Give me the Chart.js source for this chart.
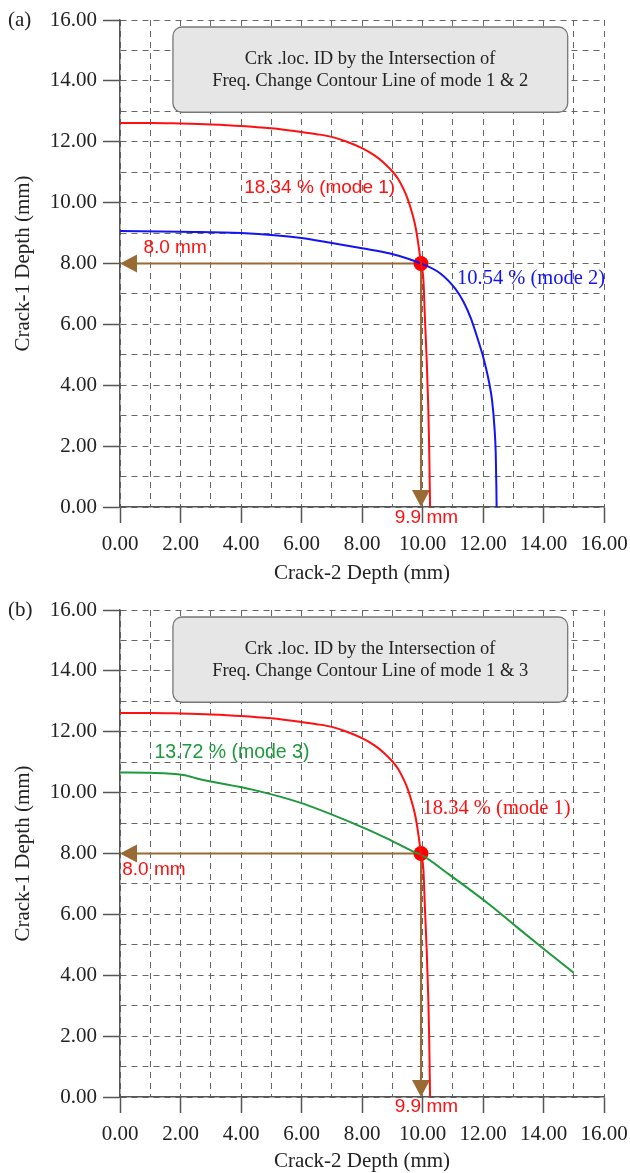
<!DOCTYPE html>
<html>
<head>
<meta charset="utf-8">
<script src="https://cdn.jsdelivr.net/npm/chart.js@4.4.1/dist/chart.umd.min.js"></script>
<style>
  html, body { margin: 0; padding: 0; background: #fff; }
  canvas { display: block; }
</style>
</head>
<body>
<canvas id="chartA" width="630" height="586"></canvas>
<canvas id="chartB" width="630" height="587"></canvas>
<script>
// axis ticks (labelled every 2 mm, grid every 1 mm)
const majorTicks = [0, 2, 4, 6, 8, 10, 12, 14, 16];

// mode 1 contour line (18.34 %), same in both panels
const mode1X = [0, 1, 2, 3, 4, 5, 6, 6.5, 7, 7.5, 8, 8.4, 8.7, 9.0, 9.2, 9.37, 9.5, 9.6, 9.7, 9.78, 9.86, 9.95,
                10.03, 10.08, 10.14, 10.19, 10.22, 10.25];
const mode1Y = [12.62, 12.62, 12.6, 12.57, 12.52, 12.44, 12.32, 12.25, 12.16, 12.0, 11.79, 11.56, 11.33, 11.03, 10.77, 10.45, 10.15, 9.85, 9.5, 9.15, 8.65, 8.0,
                7.46, 6.2, 4.8, 3.3, 2.0, 0];

// mode 2 contour line (10.54 %)
const mode2X = [0, 2, 4, 6, 7, 8, 8.93, 9.95, 10.58, 11.1, 11.35, 11.6, 11.8, 12.0, 12.2, 12.3, 12.38, 12.42, 12.44, 12.45];
const mode2Y = [9.07, 9.04, 9.0, 8.84, 8.67, 8.5, 8.33, 8.0, 7.68, 7.15, 6.75, 6.2, 5.6, 4.95, 4.1, 3.5, 2.6, 1.8, 0.8, 0];

// mode 3 contour line (13.72 %)
const mode3X = [0, 1, 2.09, 2.64, 4.41, 5.95, 7.71, 8.82, 9.7, 9.95, 10.91, 12.23, 13.11, 13.99, 15.0];
const mode3Y = [10.66, 10.65, 10.58, 10.44, 10.09, 9.67, 8.99, 8.5, 8.06, 7.96, 7.29, 6.31, 5.59, 4.88, 4.08];

// identified crack location (crack-2 depth, crack-1 depth)
const crossing = [9.95, 8.0];

const serif = '"Liberation Serif", "Times New Roman", serif';
const sans = '"Liberation Sans", Arial, sans-serif';
const axisColor = '#555';
const gridColor = '#666';
const arrowColor = '#9a6a35';

const toPoints = (xs, ys) => xs.map((v, i) => ({ x: v, y: ys[i] }));

// draws the arrows, title box and the text notes using the chart's scales
const notesPlugin = {
  id: 'notes',
  beforeDatasetsDraw(chart) {
    const { ctx, scales: { x, y } } = chart;
    const px = x.getPixelForValue(crossing[0]);
    const py = y.getPixelForValue(crossing[1]);
    const x0 = x.getPixelForValue(0);
    const y0 = y.getPixelForValue(0);
    ctx.save();
    ctx.strokeStyle = arrowColor;
    ctx.fillStyle = arrowColor;
    ctx.lineWidth = 2;
    ctx.beginPath();
    ctx.moveTo(px, py); ctx.lineTo(x0 + 16, py);
    ctx.moveTo(px, py); ctx.lineTo(px, y0 - 16);
    ctx.stroke();
    ctx.beginPath();
    ctx.moveTo(x0, py); ctx.lineTo(x0 + 17, py - 9); ctx.lineTo(x0 + 17, py + 9);
    ctx.closePath(); ctx.fill();
    ctx.beginPath();
    ctx.moveTo(px, y0); ctx.lineTo(px - 9, y0 - 17); ctx.lineTo(px + 9, y0 - 17);
    ctx.closePath(); ctx.fill();
    ctx.restore();
  },
  afterDraw(chart, args, opts) {
    const { ctx, scales: { x, y } } = chart;
    ctx.save();
    // title box
    const b = opts.box;
    const bx1 = x.getPixelForValue(b.x1), bx2 = x.getPixelForValue(b.x2);
    const by1 = y.getPixelForValue(b.y1), by2 = y.getPixelForValue(b.y2);
    ctx.beginPath();
    ctx.roundRect(bx1, by1, bx2 - bx1, by2 - by1, 9);
    ctx.fillStyle = '#e6e6e6';
    ctx.fill();
    ctx.lineWidth = 1.3;
    ctx.strokeStyle = '#777';
    ctx.stroke();
    ctx.fillStyle = '#222';
    ctx.font = '18.5px ' + serif;
    ctx.textAlign = 'center';
    ctx.textBaseline = 'middle';
    b.lines.forEach(l => {
      ctx.fillText(l.text, x.getPixelForValue(l.x), y.getPixelForValue(l.y));
    });
    // curve / value notes
    opts.labels.forEach(l => {
      ctx.fillStyle = l.color;
      ctx.font = l.font;
      ctx.fillText(l.text, x.getPixelForValue(l.x), y.getPixelForValue(l.y));
    });
    // panel letter
    ctx.fillStyle = '#222';
    ctx.font = '21px ' + serif;
    ctx.textAlign = 'left';
    ctx.fillText(opts.letter, 8, y.getPixelForValue(16));
    ctx.restore();
  }
};

function buildPanel(id, cfg) {
  const datasets = [
    {
      data: toPoints(mode1X, mode1Y),
      showLine: true, borderColor: '#ff1010', borderWidth: 2,
      pointRadius: 0, cubicInterpolationMode: 'monotone'
    },
    {
      data: toPoints(cfg.otherX, cfg.otherY),
      showLine: true, borderColor: cfg.otherColor, borderWidth: 2,
      pointRadius: 0, cubicInterpolationMode: 'monotone'
    },
    {
      data: [{ x: crossing[0], y: crossing[1] }],
      pointRadius: 7.5, backgroundColor: '#ff0000', borderWidth: 0
    }
  ];

  new Chart(document.getElementById(id), {
    type: 'scatter',
    data: { datasets },
    plugins: [notesPlugin],
    options: {
      responsive: false,
      animation: false,
      layout: { padding: { top: cfg.padTop, right: 26, left: 0, bottom: 0 } },
      scales: {
        x: {
          type: 'linear', min: 0, max: 16,
          afterFit(s) { s.height = cfg.xHeight; s.paddingLeft = 0; s.paddingRight = 0; },
          ticks: {
            stepSize: 1, autoSkip: false, maxRotation: 0, padding: 9, color: '#222',
            font: { family: serif, size: 21 },
            callback: v => majorTicks.includes(v) ? v.toFixed(2) : ''
          },
          grid: {
            color: gridColor, lineWidth: 1, tickLength: 16, tickWidth: 1.5,
            tickColor: c => majorTicks.includes(c.tick.value) ? axisColor : 'rgba(0,0,0,0)'
          },
          border: { color: axisColor, width: 1.5, dash: [6, 5] },
          title: {
            display: true, text: 'Crack-2 Depth (mm)', color: '#222',
            font: { family: serif, size: 21, lineHeight: 1 },
            padding: { top: 0, bottom: cfg.titleBottom }
          }
        },
        y: {
          type: 'linear', min: 0, max: 16,
          afterFit(s) { s.width = 120; s.paddingTop = 0; s.paddingBottom = 0; },
          ticks: {
            stepSize: 1, autoSkip: false, padding: 6, color: '#222',
            font: { family: serif, size: 21 },
            callback: v => majorTicks.includes(v) ? v.toFixed(2) : ''
          },
          grid: {
            color: gridColor, lineWidth: 1, tickLength: 17, tickWidth: 1.5,
            tickColor: c => majorTicks.includes(c.tick.value) ? axisColor : 'rgba(0,0,0,0)'
          },
          border: { color: axisColor, width: 1.5, dash: [6, 5] },
          title: {
            display: true, text: 'Crack-1 Depth (mm)', color: '#222',
            font: { family: serif, size: 21, lineHeight: 1 },
            padding: { top: 13, bottom: 0 }
          }
        }
      },
      plugins: {
        legend: { display: false },
        tooltip: { enabled: false },
        notes: {
          letter: cfg.letter,
          box: {
            x1: 1.75, x2: 14.8, y1: 15.77, y2: 12.97,
            lines: [
              { text: 'Crk .loc. ID by the Intersection of', x: 8.27, y: 14.72 },
              { text: cfg.boxLine2, x: 8.27, y: 13.99 }
            ]
          },
          labels: cfg.labels
        }
      }
    }
  });
}

buildPanel('chartA', {
  letter: '(a)',
  padTop: 20, xHeight: 79, titleBottom: 2.5,
  otherX: mode2X, otherY: mode2Y, otherColor: '#1414f0',
  boxLine2: 'Freq. Change Contour Line of mode 1 & 2',
  labels: [
    { text: '18.34 % (mode 1)', x: 6.6, y: 10.48, color: '#ff1010', font: '19px ' + sans },
    { text: '10.54 % (mode 2)', x: 13.59, y: 7.52, color: '#1414f0', font: '20.5px ' + serif },
    { text: '8.0 mm', x: 1.82, y: 8.51, color: '#ff1010', font: '19px ' + sans },
    { text: '9.9 mm', x: 10.13, y: -0.36, color: '#ff1010', font: '19px ' + sans }
  ]
});

buildPanel('chartB', {
  letter: '(b)',
  padTop: 24, xHeight: 76, titleBottom: 0.8,
  otherX: mode3X, otherY: mode3Y, otherColor: '#1e9a3c',
  boxLine2: 'Freq. Change Contour Line of mode 1 & 3',
  labels: [
    { text: '13.72 % (mode 3)', x: 3.7, y: 11.33, color: '#1e9a3c', font: '19.5px ' + sans },
    { text: '18.34 % (mode 1)', x: 12.45, y: 9.49, color: '#ff1010', font: '20.5px ' + serif },
    { text: '8.0 mm', x: 1.12, y: 7.46, color: '#ff1010', font: '19px ' + sans },
    { text: '9.9 mm', x: 10.13, y: -0.33, color: '#ff1010', font: '19px ' + sans }
  ]
});
</script>
</body>
</html>
